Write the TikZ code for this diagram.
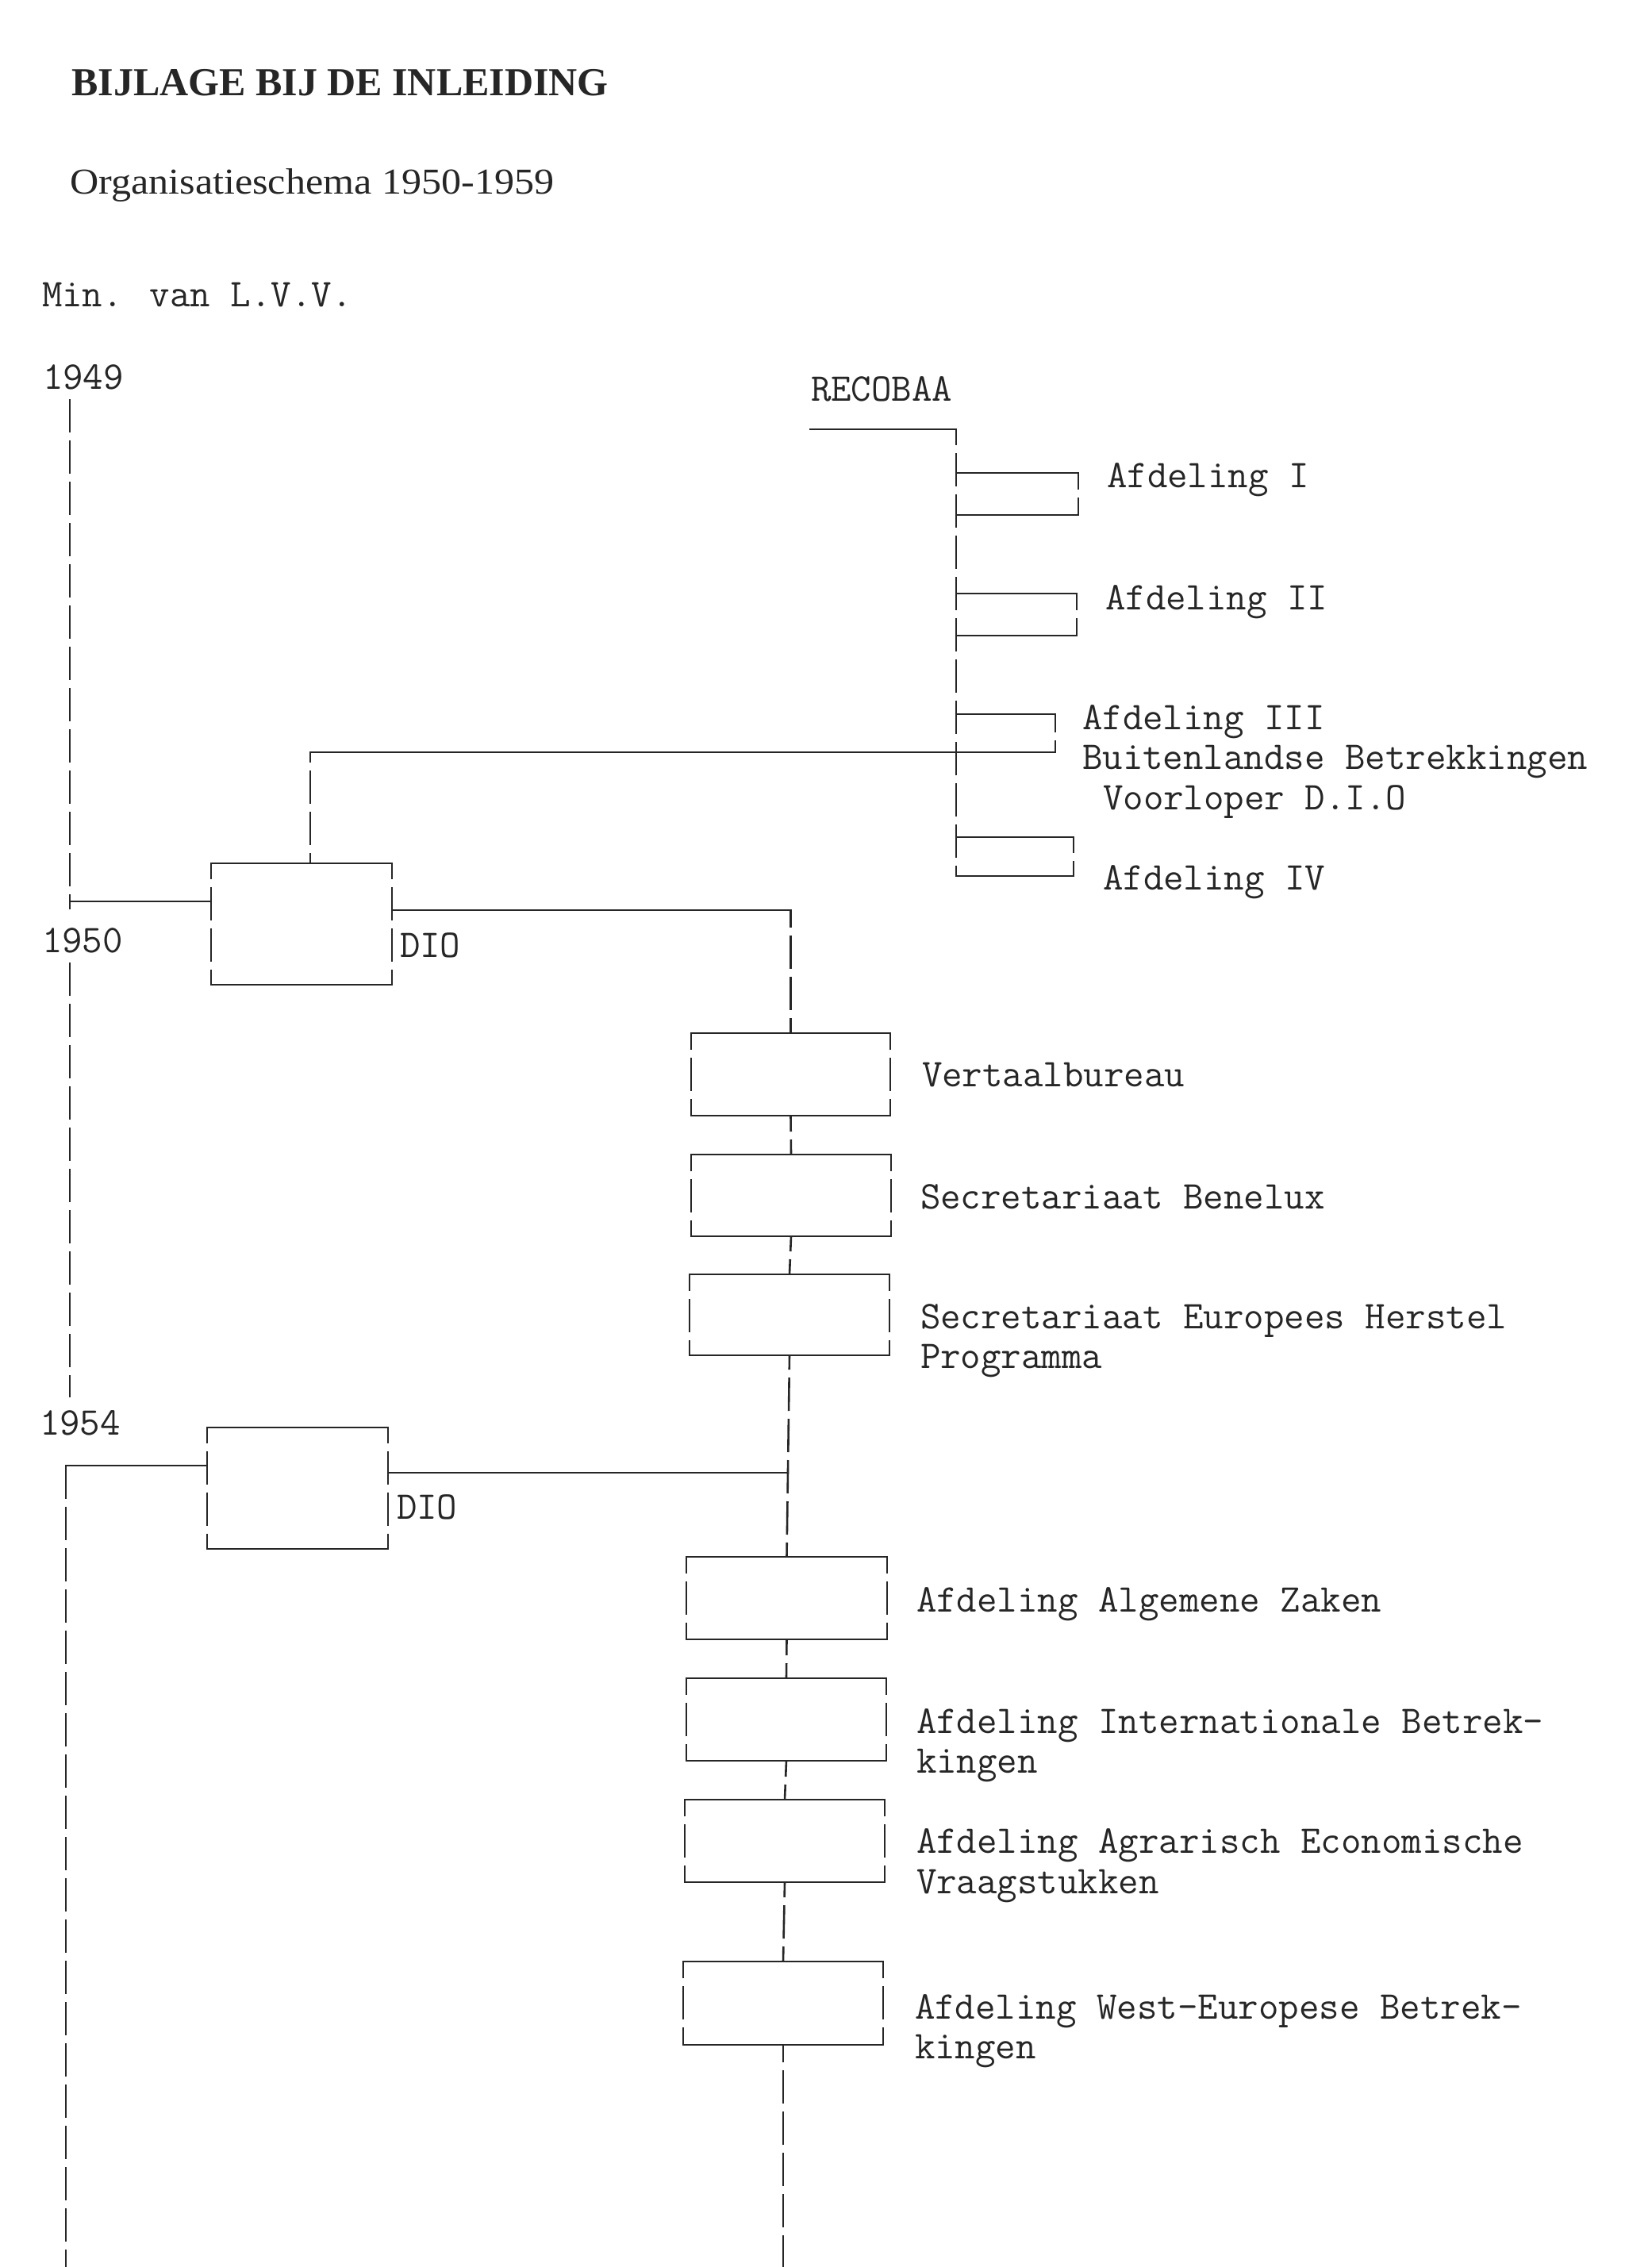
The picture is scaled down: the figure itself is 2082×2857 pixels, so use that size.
\documentclass[tikz,border=0pt]{standalone}
\usepackage{fontspec}
\setmainfont{Liberation Serif}
\usepackage{graphicx}
\definecolor{ink}{gray}{0.15}
\tikzset{
  tw/.style={font=\ttfamily\fontsize{49.5pt}{51pt}\selectfont, anchor=base west, inner sep=0pt, outer sep=0pt, text=ink},
  hline/.style={draw=ink, line width=2.6pt, line cap=rect},
  vline/.style={draw=ink, line width=2.6pt, dash pattern=on 42pt off 10pt},
  boxnode/.style={rectangle, draw=none, anchor=north west, inner sep=0pt, outer sep=0pt},
}
\newcommand{\boxborder}[3]{% name, left phase, right phase
  \draw[hline] (#1.north west) -- (#1.north east);
  \draw[hline] (#1.south west) -- (#1.south east);
  \draw[vline, dash phase=#2pt] (#1.north west) -- (#1.south west);
  \draw[vline, dash phase=#3pt] (#1.north east) -- (#1.south east);
}
\newcommand{\bracketborder}[2]{% name, phase
  \draw[hline] (#1.north west) -- (#1.north east);
  \draw[hline] (#1.south west) -- (#1.south east);
  \draw[vline, dash phase=#2pt] (#1.north east) -- (#1.south east);
}
\begin{document}
\begin{tikzpicture}[x=1pt, y=-1pt]
\useasboundingbox[fill=white] (0,0) rectangle (2082,2857);

% headings
\node[anchor=base west, inner sep=0pt, text=ink, font=\bfseries\fontsize{50pt}{60pt}\selectfont] (title) at (90,120) {BIJLAGE BIJ DE INLEIDING};
\node[anchor=base west, inner sep=0pt, text=ink, font=\fontsize{46pt}{56pt}\selectfont] (subtitle) at (88,244) {\scalebox{1.09}[1]{Organisatieschema 1950-1959}};
\node[tw] (ministry) at (53,386) {Min. van L.V.V.};

% years
\node[tw] (y1949) at (54,490) {1949};
\node[tw] (y1950) at (53,1200) {1950};
\node[tw] (y1954) at (50,1808) {1954};

% RECOBAA
\node[tw] (recobaa) at (1022,505) {RECOBAA};
\node[boxnode, minimum width=154pt, minimum height=53pt] (b1) at (1205,596) {};
\node[boxnode, minimum width=152pt, minimum height=53pt] (b2) at (1205,748) {};
\node[boxnode, minimum width=125pt, minimum height=48pt] (b3) at (1205,900) {};
\node[boxnode, minimum width=148pt, minimum height=49pt] (b4) at (1205,1055) {};
\node[tw] (lb1) at (1395,614) {Afdeling I};
\node[tw] (lb2) at (1393,768) {Afdeling II};
\node[tw] (lb3a) at (1364,919) {Afdeling III};
\node[tw] (lb3b) at (1364,969) {Buitenlandse Betrekkingen};
\node[tw] (lb3c) at (1390,1020) {Voorloper D.I.O};
\node[tw] (lb4) at (1390,1121) {Afdeling IV};

\coordinate (rstart) at (1021,541);
\coordinate (rtop) at (1205,541);
\draw[hline] (rstart) -- (rtop);
\draw[vline, dash phase=22pt] (rtop) -- (b4.south west);
\bracketborder{b1}{21}
\bracketborder{b2}{21}
\bracketborder{b3}{19}
\bracketborder{b4}{22}

% DIO 1950
\node[boxnode, minimum width=228pt, minimum height=153pt] (dio50) at (266,1088) {};
\node[tw] (dio50l) at (504,1206) {DIO};
\boxborder{dio50}{22}{22}

% DIO 1954
\node[boxnode, minimum width=228pt, minimum height=153pt] (dio54) at (261,1799) {};
\node[tw] (dio54l) at (500,1914) {DIO};
\boxborder{dio54}{22}{22}

% right column boxes
\node[boxnode, minimum width=251pt, minimum height=104pt] (vert) at (871,1302) {};
\node[boxnode, minimum width=252pt, minimum height=103pt] (bene) at (871,1455) {};
\node[boxnode, minimum width=252pt, minimum height=102pt] (ehp) at (869,1606) {};
\node[boxnode, minimum width=253pt, minimum height=104pt] (aaz) at (865,1962) {};
\node[boxnode, minimum width=252pt, minimum height=104pt] (aib) at (865,2115) {};
\node[boxnode, minimum width=252pt, minimum height=104pt] (aaev) at (863,2268) {};
\node[boxnode, minimum width=252pt, minimum height=105pt] (aweb) at (861,2472) {};
\foreach \n in {vert,bene,ehp,aaz,aib,aaev,aweb}{\boxborder{\n}{21}{21}}

\node[tw] (lvert) at (1162,1369) {Vertaalbureau};
\node[tw] (lbene) at (1160,1523) {Secretariaat Benelux};
\node[tw] (lehpa) at (1160,1674) {Secretariaat Europees Herstel};
\node[tw] (lehpb) at (1160,1724) {Programma};
\node[tw] (laaz) at (1155,2031) {Afdeling Algemene Zaken};
\node[tw] (laiba) at (1155,2184) {Afdeling Internationale Betrek-};
\node[tw] (laibb) at (1155,2234) {kingen};
\node[tw] (laaeva) at (1155,2335) {Afdeling Agrarisch Economische};
\node[tw] (laaevb) at (1155,2386) {Vraagstukken};
\node[tw] (laweba) at (1153,2544) {Afdeling West-Europese Betrek-};
\node[tw] (lawebb) at (1153,2594) {kingen};

% left timeline
\coordinate (t1a) at (88,503);
\coordinate (t1j) at (88,1136);
\coordinate (t1b) at (88,1146);
\coordinate (t1c) at (88,1213);
\coordinate (t1d) at (88,1761);
\coordinate (t2a) at (83,1847);
\coordinate (t2b) at (83,2857);
\draw[vline] (t1a) -- (t1b);
\draw[vline] (t1c) -- (t1d);
\draw[hline] (t1j) -- (t1j -| dio50.west);
\draw[vline] (t2a) -- (t2b);
\draw[hline] (t2a) -- (t2a -| dio54.west);

% DIO 1950 to RECOBAA Afdeling III
\coordinate (c3) at (391,948);
\draw[vline, dash phase=29pt] (dio50.north -| c3) -- (c3);
\draw[hline] (c3) -- (b3.south east);

% DIO 1950 to its departments
\coordinate (j50) at (996.5,1147);
\draw[hline] (j50 -| dio50.east) -- (j50);
\draw[vline, dash phase=20pt] (j50) -- (vert.north);
\draw[vline, dash phase=22pt] (vert.south) -- (bene.north);
\draw[vline, dash phase=23pt] (bene.south) -- (ehp.north);
\draw[vline, dash phase=24pt] (ehp.south) -- (aaz.north);

% DIO 1954 to its departments
\coordinate (j54) at (993,1856);
\draw[hline] (j54 -| dio54.east) -- (j54);
\draw[vline, dash phase=22pt] (aaz.south) -- (aib.north);
\draw[vline, dash phase=22pt] (aib.south) -- (aaev.north);
\draw[vline, dash phase=23pt] (aaev.south) -- (aweb.north);
\coordinate (bend) at (987,2857);
\draw[vline, dash phase=20pt] (aweb.south) -- (bend);
\end{tikzpicture}
\end{document}
